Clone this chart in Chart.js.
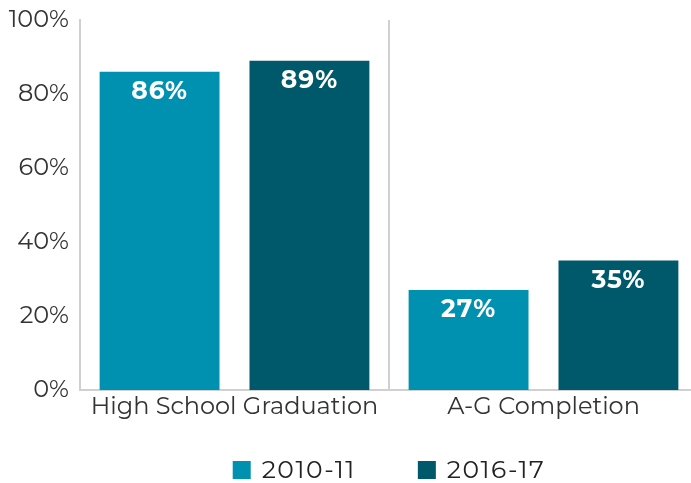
<!DOCTYPE html>
<html>
<head>
<meta charset="utf-8">
<script src="https://cdn.jsdelivr.net/npm/chart.js@4"></script>
<style>
  html, body { margin: 0; padding: 0; background: #fff; overflow: hidden; }
  #wrap { width: 698px; height: 483px; }
</style>
</head>
<body>
<div id="wrap"><canvas id="chart" width="698" height="483"></canvas></div>
<script>
// ============================================================
// Data
// ============================================================
const categories = ['High School Graduation', 'A-G Completion'];
const seriesNames = ['2010-11', '2016-17'];
const values2010 = [86, 27];
const values2016 = [89, 35];
const yTicks = [0, 20, 40, 60, 80, 100];

const colors = ['#0091b1', '#00596b'];
const FONT = "'Montserrat', 'Lato', 'Open Sans', sans-serif";

// white value labels inside top of each bar
const barLabels = {
  id: 'barLabels',
  afterDatasetsDraw(chart) {
    const ctx = chart.ctx;
    ctx.save();
    ctx.fillStyle = '#fff';
    ctx.font = 'bold 25px ' + FONT;
    ctx.letterSpacing = '1px';
    ctx.textAlign = 'center';
    ctx.textBaseline = 'middle';
    chart.data.datasets.forEach((ds, i) => {
      chart.getDatasetMeta(i).data.forEach((bar, j) => {
        ctx.fillText(ds.data[j] + '%', bar.x, bar.y + 20);
      });
    });
    ctx.restore();
  }
};

// legend row under the x labels, centred on the plot area
const bottomLegend = {
  id: 'bottomLegend',
  afterDraw(chart) {
    const ctx = chart.ctx;
    const box = 18, boxGap = 11, itemGap = 62, y = 470;
    ctx.save();
    ctx.font = '25px ' + FONT;
    ctx.letterSpacing = '1.5px';
    ctx.textBaseline = 'middle';
    const items = chart.data.datasets.map(ds => ({ text: ds.label, color: ds.backgroundColor, w: ctx.measureText(ds.label).width }));
    const total = items.reduce((s, it) => s + box + boxGap + it.w, 0) + itemGap * (items.length - 1);
    let x = (chart.chartArea.left + chart.chartArea.right) / 2 - total / 2;
    items.forEach(it => {
      ctx.fillStyle = it.color;
      ctx.fillRect(x, y - box / 2, box, box);
      x += box + boxGap;
      ctx.fillStyle = '#222';
      ctx.fillText(it.text, x, y + 1);
      x += it.w + itemGap;
    });
    ctx.restore();
  }
};

new Chart(document.getElementById('chart'), {
  type: 'bar',
  data: {
    labels: categories,
    datasets: [
      { label: seriesNames[0], data: values2010, backgroundColor: colors[0] },
      { label: seriesNames[1], data: values2016, backgroundColor: colors[1] }
    ]
  },
  options: {
    responsive: false,
    animation: false,
    devicePixelRatio: 1,
    layout: { padding: { top: 20, right: 0, left: 0, bottom: 53 } },
    datasets: { bar: { categoryPercentage: 0.97, barPercentage: 0.8 } },
    plugins: {
      legend: { display: false },
      tooltip: { enabled: false }
    },
    scales: {
      x: {
        afterFit: s => { s.height = 40; },
        grid: { display: true, offset: true, color: '#d0d0d0', lineWidth: 2, drawTicks: false },
        border: { display: true, color: '#d0d0d0', width: 2 },
        ticks: { color: '#333', font: { size: 24, family: FONT }, padding: 3 }
      },
      y: {
        min: 0,
        max: 100,
        afterBuildTicks: s => { s.ticks = yTicks.map(v => ({ value: v })); },
        afterFit: s => { s.width = 80; },
        grid: { display: false },
        border: { display: true, color: '#d0d0d0', width: 2 },
        ticks: { color: '#333', font: { size: 24, family: FONT }, padding: 3, callback: v => v + '%' }
      }
    }
  },
  plugins: [barLabels, bottomLegend]
});
</script>
</body>
</html>
